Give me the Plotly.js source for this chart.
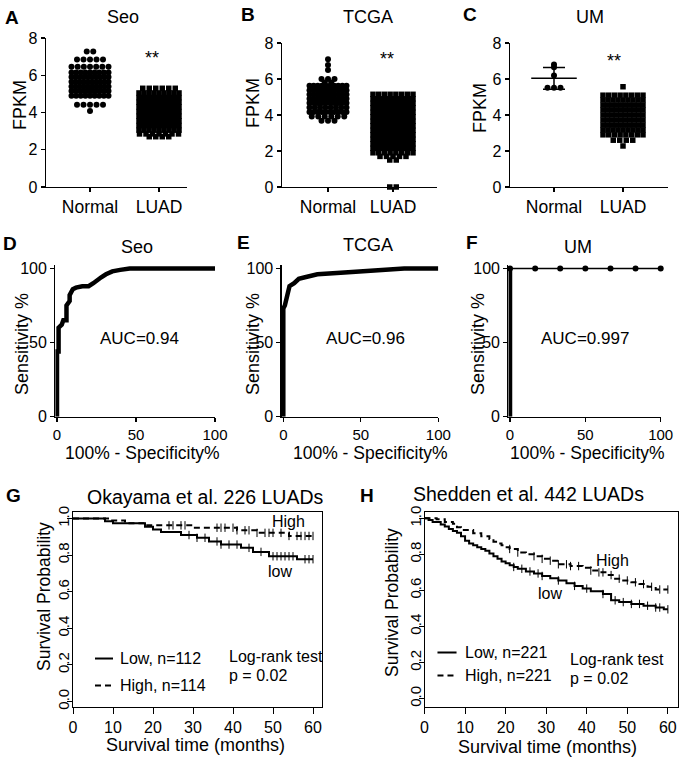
<!DOCTYPE html>
<html>
<head>
<meta charset="utf-8">
<script src="https://cdn.plot.ly/plotly-3.0.1.min.js"></script>
<style>
  html, body { margin: 0; padding: 0; background: #fff; }
  #fig { width: 683px; height: 761px; }
</style>
</head>
<body>
<div id="fig"></div>
<script>
// ---- A-C: FPKM column scatter (row level -> number of points in that row)
const groups = ["Normal", "LUAD"];

const seoNormalLevels = [7.27, 6.85, 6.45, 6.15, 5.9, 5.65, 5.4, 5.15, 4.9, 4.42, 4.08];
const seoNormalCounts = [2, 5, 7, 9, 10, 10, 10, 10, 9, 5, 1];
const seoLuadLevels = [5.3, 5.05, 4.8, 4.55, 4.3, 4.05, 3.8, 3.55, 3.3, 3.05, 2.85, 2.7];
const seoLuadCounts = [6, 9, 10, 10, 10, 10, 10, 10, 10, 9, 7, 4];

const tcgaNormalLevels = [7.1, 6.78, 6.5, 6.0, 5.8, 5.62, 5.38, 5.14, 4.9, 4.66, 4.42, 4.17, 3.92, 3.68];
const tcgaNormalCounts = [1, 1, 1, 3, 2, 10, 10, 10, 10, 10, 8, 10, 6, 3];
const tcgaLuadLevels = [5.15, 4.9, 4.65, 4.4, 4.15, 3.9, 3.65, 3.4, 3.15, 2.9, 2.65, 2.4, 2.15, 1.9, 1.7, 1.5, 0];
const tcgaLuadCounts = [8, 10, 10, 10, 11, 11, 11, 11, 11, 10, 10, 10, 10, 8, 5, 2, 2];

const umNormalLevels = [6.8, 6.65, 6.2, 5.52];
const umNormalCounts = [1, 1, 1, 3];
const umLuadLevels = [5.57, 5.1, 4.83, 4.55, 4.28, 4.0, 3.72, 3.44, 3.17, 2.9, 2.6, 2.28];
const umLuadCounts = [1, 8, 9, 10, 10, 10, 10, 10, 9, 8, 4, 1];

// ---- D-F: ROC curves (100% - specificity, sensitivity)
const seoRocFpr = [0, 0, 1, 1, 3, 4, 6, 6, 8, 8, 10, 12, 16, 20, 23, 25, 28, 31, 35, 40, 46, 100];
const seoRocTpr = [0, 44, 44, 60, 62, 65, 65, 75, 78, 82, 86, 87, 88, 88, 90, 92, 94, 96, 98, 99, 100, 100];
const tcgaRocFpr = [0, 0, 1, 2, 3, 4, 7, 10, 14, 22, 37, 55, 70, 78, 100];
const tcgaRocTpr = [0, 73, 75, 80, 84, 88, 90, 93, 94, 96, 97, 98, 99, 100, 100];
const umRocFpr = [0, 0, 16.7, 33.3, 50, 66.7, 83.3, 100];
const umRocTpr = [0, 100, 100, 100, 100, 100, 100, 100];
const aucLabels = ["AUC=0.94", "AUC=0.96", "AUC=0.997"];

// ---- G-H: Kaplan-Meier steps (time in months, survival probability)
const okaLowT = [0, 8, 10, 18, 20, 22, 27, 31, 34, 37, 42, 45, 49, 56];
const okaLowS = [1, 0.985, 0.975, 0.955, 0.94, 0.927, 0.91, 0.895, 0.875, 0.858, 0.84, 0.818, 0.794, 0.778];
const okaHighT = [0, 9, 13, 18, 30, 41, 46, 54];
const okaHighS = [1, 0.99, 0.975, 0.963, 0.95, 0.936, 0.922, 0.905];
const okaLowCens = [29, 31, 33, 36, 37, 39, 41, 44, 47, 50, 51, 52, 53, 54, 55, 58, 59, 60];
const okaHighCens = [24, 25, 27, 28, 36, 37, 38, 40, 41, 43, 44, 46, 48, 49, 50, 52, 54, 56, 57, 58, 59, 60];

const shLowT = [0, 1, 2, 4, 5, 6, 7, 8, 9, 10, 11, 12, 13, 14, 15, 16, 17, 18, 19, 20, 21, 22, 23, 25, 27, 29, 31, 33, 35, 37, 39, 41, 44, 46, 48, 51, 54, 57, 59];
const shLowS = [1, 0.99, 0.98, 0.965, 0.955, 0.94, 0.93, 0.92, 0.9, 0.875, 0.86, 0.85, 0.84, 0.83, 0.82, 0.805, 0.79, 0.775, 0.76, 0.75, 0.74, 0.73, 0.72, 0.705, 0.694, 0.68, 0.667, 0.655, 0.64, 0.625, 0.61, 0.595, 0.58, 0.545, 0.535, 0.525, 0.515, 0.505, 0.495];
const shHighT = [0, 3, 5, 7, 8, 9, 12, 14, 16, 17, 18, 19, 20, 21, 23, 25, 27, 29, 31, 33, 36, 39, 41, 43, 45, 47, 49, 51, 53, 55, 57];
const shHighS = [1, 0.995, 0.98, 0.97, 0.95, 0.935, 0.917, 0.9, 0.885, 0.87, 0.86, 0.85, 0.84, 0.83, 0.81, 0.8, 0.79, 0.775, 0.765, 0.745, 0.735, 0.725, 0.71, 0.7, 0.685, 0.665, 0.655, 0.645, 0.635, 0.62, 0.605];
const shLowCens = [22, 24, 26, 28, 29, 33, 37, 40, 44, 47, 49, 51, 53, 55, 57, 58, 60];
const shHighCens = [21, 23, 27, 29, 31, 33, 35, 36, 38, 41, 43, 44, 46, 48, 50, 52, 54, 56, 58, 60];
const endTime = 60;

const FONT = "Arial, 'Liberation Sans', sans-serif";
const W = 683, H = 761;
const px = (v) => v / W;
const py = (v) => 1 - v / H;

// spread each row of values sideways around its column
function swarm(levels, counts, center, unitPx, maxWidthPx) {
  const xs = [], ys = [];
  levels.forEach((lv, i) => {
    const n = counts[i];
    const step = n > 1 ? Math.min(6.5, maxWidthPx / (n - 1)) / unitPx : 0;
    for (let k = 0; k < n; k++) {
      xs.push(center + (k - (n - 1) / 2) * step);
      ys.push(lv);
    }
  });
  return { x: xs, y: ys };
}

function kmAt(t, times, surv) {
  let s = surv[0];
  for (let i = 0; i < times.length; i++) if (times[i] <= t) s = surv[i];
  return s;
}

const traces = [];
const layout = {
  width: W, height: H,
  margin: { l: 0, r: 0, t: 0, b: 0 },
  paper_bgcolor: "#fff", plot_bgcolor: "#fff",
  showlegend: false,
  font: { family: FONT, color: "#000", size: 14 },
  annotations: [], shapes: []
};

function axisBase(extra) {
  return Object.assign({
    showgrid: false, zeroline: false, showline: true, linecolor: "#000", linewidth: 1.3,
    ticks: "outside", ticklen: 4, tickwidth: 1.3, tickcolor: "#000",
    tickfont: { family: FONT, size: 16, color: "#000" }
  }, extra);
}

// ---------- row 1: dot plots ----------
const dotPanels = [
  { k: "", dom: [46, 187], top: 38, ctr: [90, 159], nL: seoNormalLevels, nC: seoNormalCounts, lL: seoLuadLevels, lC: seoLuadCounts, star: [0.9, 6.93] },
  { k: "2", dom: [282, 437], top: 43, ctr: [328, 393], nL: tcgaNormalLevels, nC: tcgaNormalCounts, lL: tcgaLuadLevels, lC: tcgaLuadCounts, star: [0.9, 7.1] },
  { k: "3", dom: [510, 668], top: 43, ctr: [554, 623], nL: umNormalLevels, nC: umNormalCounts, lL: umLuadLevels, lC: umLuadCounts, star: [0.87, 7.0], meanSd: true }
];

dotPanels.forEach((p) => {
  const unit = p.ctr[1] - p.ctr[0];
  const xa = "x" + p.k, ya = "y" + p.k;
  layout["xaxis" + p.k] = axisBase({
    domain: [px(p.dom[0]), px(p.dom[1])], anchor: ya,
    range: [(p.dom[0] - p.ctr[0]) / unit, (p.dom[1] - p.ctr[0]) / unit],
    tickvals: [0, 1], ticktext: groups, tickfont: { family: FONT, size: 17.5, color: "#000" }
  });
  layout["yaxis" + p.k] = axisBase({
    domain: [py(187), py(p.top)], anchor: xa, range: [0, 8], dtick: 2
  });
  const n = swarm(p.nL, p.nC, 0, unit, 37);
  const l = swarm(p.lL, p.lC, 1, unit, 40);
  traces.push({ x: n.x, y: n.y, xaxis: xa, yaxis: ya, type: "scatter", mode: "markers", cliponaxis: false,
    marker: { symbol: "circle", size: 6, color: "#000" } });
  traces.push({ x: l.x, y: l.y, xaxis: xa, yaxis: ya, type: "scatter", mode: "markers", cliponaxis: false,
    marker: { symbol: "square", size: 5.5, color: "#000" } });
  if (p.meanSd) {
    let sum = 0, cnt = 0;
    p.nL.forEach((v, i) => { sum += v * p.nC[i]; cnt += p.nC[i]; });
    const mean = sum / cnt;
    let ss = 0;
    p.nL.forEach((v, i) => { ss += p.nC[i] * (v - mean) * (v - mean); });
    const sd = Math.sqrt(ss / (cnt - 1));
    traces.push({ x: [-0.33, 0.33], y: [mean, mean], xaxis: xa, yaxis: ya, type: "scatter", mode: "lines",
      line: { color: "#000", width: 1.5 } });
    traces.push({ x: [0], y: [mean], xaxis: xa, yaxis: ya, type: "scatter", mode: "markers",
      marker: { size: 1, color: "rgba(0,0,0,0)" },
      error_y: { type: "data", array: [sd], color: "#000", thickness: 1.5, width: 11 } });
  }
  layout.annotations.push({ xref: xa, yref: ya, x: p.star[0], y: p.star[1], text: "**", showarrow: false,
    font: { family: FONT, size: 18, color: "#000" } });
});

// ---------- row 2: ROC curves ----------
const rocPanels = [
  { k: "4", x0: 57, x100: 215, fpr: seoRocFpr, tpr: seoRocTpr, auc: aucLabels[0], aucX: 52 },
  { k: "5", x0: 283.3, x100: 438.3, fpr: tcgaRocFpr, tpr: tcgaRocTpr, auc: aucLabels[1], aucX: 53 },
  { k: "6", x0: 510, x100: 660.7, fpr: umRocFpr, tpr: umRocTpr, auc: aucLabels[2], aucX: 50, dots: true }
];
const rocY0 = 416.7, rocUnitY = 1.483;

rocPanels.forEach((p) => {
  const ux = (p.x100 - p.x0) / 100;
  const xa = "x" + p.k, ya = "y" + p.k;
  layout["xaxis" + p.k] = axisBase({
    domain: [px(p.x0 - ux), px(p.x100)], anchor: ya, range: [-1, 100], tickvals: [0, 50, 100],
    tickfont: { family: FONT, size: 15, color: "#000" }
  });
  layout["yaxis" + p.k] = axisBase({
    domain: [py(rocY0), py(rocY0 - 102 * rocUnitY)], anchor: xa, range: [0, 102], tickvals: [0, 50, 100]
  });
  if (p.dots) {
    traces.push({ x: p.fpr.slice(0, 2), y: p.tpr.slice(0, 2), xaxis: xa, yaxis: ya, type: "scatter", mode: "lines",
      line: { color: "#000", width: 4.5 } });
    traces.push({ x: p.fpr.slice(1), y: p.tpr.slice(1), xaxis: xa, yaxis: ya, type: "scatter", mode: "lines+markers",
      cliponaxis: false, line: { color: "#000", width: 1.5 }, marker: { size: 6, color: "#000" } });
  } else {
    traces.push({ x: p.fpr, y: p.tpr, xaxis: xa, yaxis: ya, type: "scatter", mode: "lines",
      line: { color: "#000", width: 4.5 } });
  }
  layout.annotations.push({ xref: xa, yref: ya, x: p.aucX, y: 53, text: p.auc, showarrow: false,
    font: { family: FONT, size: 17, color: "#000" } });
});

// ---------- row 3: survival curves ----------
const kmPanels = [
  { k: "7", dom: [73, 322], xr: [0, 62.25], yr: [-0.03, 1.036],
    low: [okaLowT, okaLowS, okaLowCens], high: [okaHighT, okaHighS, okaHighCens],
    nLow: "Low, n=112", nHigh: "High, n=114", hi: [53.75, 0.984], lo: [51.75, 0.71],
    logX: 38.5, logY: [0.246, 0.142], leg: { x: [5.5, 10], t: 11.3, y: [0.235, 0.087] } },
  { k: "8", dom: [424.5, 678], xr: [0, 62.5], yr: [-0.047, 1.035],
    low: [shLowT, shLowS, shLowCens], high: [shHighT, shHighS, shHighCens],
    nLow: "Low, n=221", nHigh: "High, n=221", hi: [46.4, 0.767], lo: [30.9, 0.583],
    logX: 35.3, logY: [0.217, 0.111], leg: { x: [3.2, 7.9], t: 9.4, y: [0.256, 0.128] } }
];

kmPanels.forEach((p) => {
  const xa = "x" + p.k, ya = "y" + p.k;
  layout["xaxis" + p.k] = axisBase({
    domain: [px(p.dom[0]), px(p.dom[1])], anchor: ya, range: p.xr, dtick: 10, mirror: true,
    linewidth: 1, tickwidth: 1, ticklen: 6, tickfont: { family: FONT, size: 16, color: "#000" }
  });
  layout["yaxis" + p.k] = axisBase({
    domain: [py(707), py(512)], anchor: xa, range: p.yr, dtick: 0.2, tickformat: ".1f", tickangle: -90,
    mirror: true, linewidth: 1, tickwidth: 1, ticklen: 5, ticklabelstandoff: -8,
    tickfont: { family: FONT, size: 15, color: "#000" }
  });
  [[p.low, "solid"], [p.high, "6px,4px"]].forEach(([d, dash]) => {
    const [t, s, c] = d;
    traces.push({ x: t.concat([endTime]), y: s.concat([s[s.length - 1]]), xaxis: xa, yaxis: ya,
      type: "scatter", mode: "lines", line: { shape: "hv", color: "#000", width: 2, dash: dash } });
    traces.push({ x: c, y: c.map((v) => kmAt(v, t, s)), xaxis: xa, yaxis: ya, type: "scatter", mode: "markers",
      cliponaxis: false, marker: { symbol: "line-ns-open", size: 6, color: "#000", line: { width: 1, color: "#000" } } });
  });
  const f = { family: FONT, size: 16, color: "#000" };
  layout.annotations.push(
    { xref: xa, yref: ya, x: p.hi[0], y: p.hi[1], text: "High", showarrow: false, font: f },
    { xref: xa, yref: ya, x: p.lo[0], y: p.lo[1], text: "low", showarrow: false, font: f },
    { xref: xa, yref: ya, x: p.logX, y: p.logY[0], text: "Log-rank test", xanchor: "left", showarrow: false, font: f },
    { xref: xa, yref: ya, x: p.logX, y: p.logY[1], text: "p = 0.02", xanchor: "left", showarrow: false, font: f },
    { xref: xa, yref: ya, x: p.leg.t, y: p.leg.y[0], text: p.nLow, xanchor: "left", showarrow: false, font: f },
    { xref: xa, yref: ya, x: p.leg.t, y: p.leg.y[1], text: p.nHigh, xanchor: "left", showarrow: false, font: f }
  );
  layout.shapes.push(
    { type: "line", xref: xa, yref: ya, x0: p.leg.x[0], x1: p.leg.x[1], y0: p.leg.y[0], y1: p.leg.y[0],
      line: { color: "#000", width: 2 } },
    { type: "line", xref: xa, yref: ya, x0: p.leg.x[0], x1: p.leg.x[1], y0: p.leg.y[1], y1: p.leg.y[1],
      line: { color: "#000", width: 2, dash: "6px,4px" } }
  );
});

// ---------- panel letters, titles, axis titles ----------
function txt(x, y, text, size, opts) {
  layout.annotations.push(Object.assign({
    xref: "paper", yref: "paper", x: px(x), y: py(y), text: text, showarrow: false,
    xanchor: "center", yanchor: "middle", font: { family: FONT, size: size, color: "#000" }
  }, opts || {}));
}
[["A", 12, 17], ["B", 248, 15], ["C", 470, 15], ["D", 10, 243], ["E", 243, 242], ["F", 472, 242],
 ["G", 13, 495], ["H", 367, 495]].forEach(([t, x, y]) => txt(x, y, "<b>" + t + "</b>", 19));
txt(123, 17, "Seo", 18); txt(368, 17, "TCGA", 18); txt(590, 17, "UM", 18);
txt(137, 247, "Seo", 18); txt(368, 245, "TCGA", 18); txt(578, 247, "UM", 18);
txt(205, 497, "Okayama et al. 226 LUADs", 19.5); txt(528, 494, "Shedden et al. 442 LUADs", 19.5);
[[20, 105], [253, 103], [480, 108]].forEach(([x, y]) => txt(x, y, "FPKM", 18, { textangle: -90 }));
[[22, 344], [253, 344], [478, 344]].forEach(([x, y]) => txt(x, y, "Sensitivity %", 18, { textangle: -90 }));
[[142, 453], [370, 453], [587, 453]].forEach(([x, y]) => txt(x, y, "100% - Specificity%", 17.5));
txt(44, 597, "Survival Probability", 17.5, { textangle: -90 });
txt(392, 603, "Survival Probability", 17.5, { textangle: -90 });
txt(195, 745, "Survival time (months)", 18);
txt(547, 747, "Survival time (months)", 18);

Plotly.newPlot("fig", traces, layout, { displayModeBar: false, staticPlot: true });
</script>
</body>
</html>
